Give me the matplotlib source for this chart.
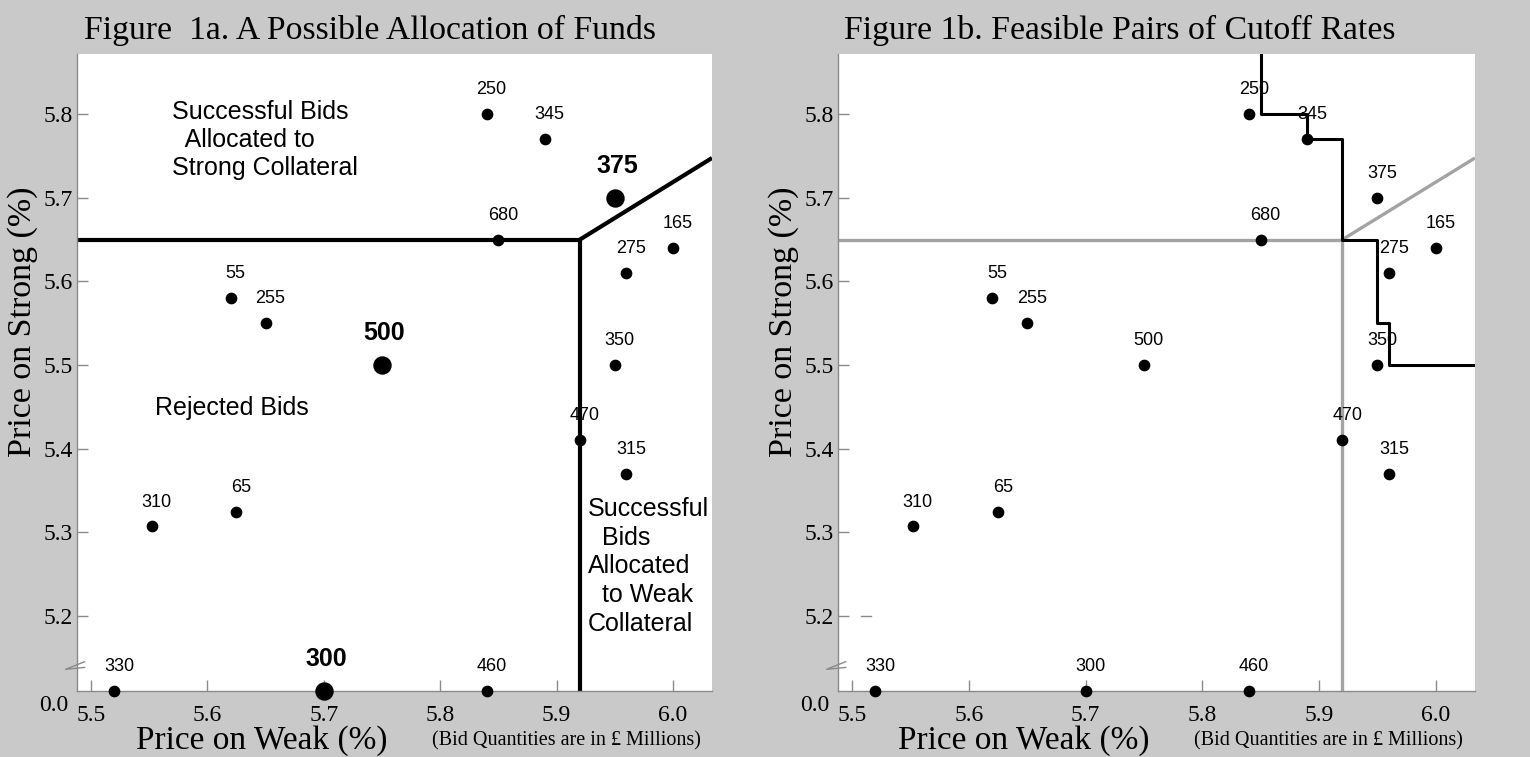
import numpy as np
import matplotlib
matplotlib.use("Agg")
import matplotlib.pyplot as plt
import matplotlib.transforms as mtransforms

# bids: quantity (GBP millions), price on weak (%), price on strong (%); 0.0 = below the axis break
quantities = [250, 345, 375, 680, 165, 275, 55, 255, 500, 350, 470, 315, 310, 65, 330, 300, 460]
weak = [5.84, 5.89, 5.95, 5.85, 6.00, 5.96, 5.62, 5.65, 5.75, 5.95, 5.92, 5.96, 5.552, 5.625, 5.52, 5.70, 5.84]
strong = [5.80, 5.77, 5.70, 5.65, 5.64, 5.61, 5.58, 5.55, 5.50, 5.50, 5.41, 5.37, 5.307, 5.324, 0.0, 0.0, 0.0]
highlighted = [375, 500, 300]  # the allocation shown in figure 1a

# cutoff rates
cut_weak = 5.92
cut_strong = 5.65
diag_slope = 0.86

# feasible cutoff pairs (fig 1b) step boundary
step_weak = [5.85, 5.89, 5.92, 5.95, 5.96]
step_strong = [5.80, 5.77, 5.65, 5.55, 5.50]

yticks = [5.2, 5.3, 5.4, 5.5, 5.6, 5.7, 5.8]
xticks = [5.5, 5.6, 5.7, 5.8, 5.9, 6.0]

XLIM = (5.488, 6.0335)
YLIM = (5.11, 5.872)

BG = "#c9c9c9"
AXC = "#8a8a8a"
SERIF = "Liberation Serif"
SANS = "Liberation Sans"

weak = np.array(weak)
strong_plot = np.where(np.array(strong) == 0.0, YLIM[0], strong)

fig = plt.figure(figsize=(15.3, 7.57), dpi=100, facecolor=BG)
ax1 = fig.add_axes([77 / 1530, 66 / 757, 635 / 1530, 637 / 757])
ax2 = fig.add_axes([838 / 1530, 66 / 757, 637 / 1530, 637 / 757])


def setup_axes(ax, title, title_x):
    ax.set_facecolor("white")
    ax.set_xlim(*XLIM)
    ax.set_ylim(*YLIM)
    for side in ["top", "right"]:
        ax.spines[side].set_visible(False)
    for side in ["left", "bottom"]:
        ax.spines[side].set_color(AXC)
        ax.spines[side].set_linewidth(1.0)
    ax.set_xticks(xticks)
    ax.set_xticklabels([f"{v:.1f}" for v in xticks])
    ax.set_yticks([YLIM[0]] + yticks)
    ax.set_yticklabels(["0.0"] + [f"{v:.1f}" for v in yticks])
    ax.tick_params(direction="in", length=8, width=1.0, color=AXC, labelsize=17)
    ax.tick_params(axis="x", pad=10)
    ax.tick_params(axis="y", pad=3)
    for lab in ax.get_xticklabels() + ax.get_yticklabels():
        lab.set_family(SERIF)
    # bottom "0.0" label sits below the break, a bit lower and left
    ax.yaxis.get_major_ticks()[0].tick1line.set_visible(False)
    lab0 = ax.get_yticklabels()[0]
    lab0.set_transform(lab0.get_transform() + mtransforms.ScaledTranslation(-4 / 100, -12 / 100, fig.dpi_scale_trans))
    # axis break mark
    ax.plot([0.012, -0.018, 0.012], [0.046, 0.034, 0.037], transform=ax.transAxes,
            color=AXC, lw=1.0, clip_on=False)

    ax.set_xlabel("Price on Weak (%)", family=SERIF, fontsize=24, va="center")
    ax.xaxis.set_label_coords(0.291, -0.078)
    ax.set_ylabel("Price on Strong (%)", family=SERIF, fontsize=24.5, va="center")
    ax.yaxis.set_label_coords(-0.086, 0.58)
    ax.text(0.77, -0.0785, "(Bid Quantities are in \u00a3 Millions)", transform=ax.transAxes,
            ha="center", va="center", family=SERIF, fontsize=14.5)
    ax.text(title_x, 1.037, title, transform=ax.transAxes, ha="center", va="center",
            family=SERIF, fontsize=24.3)


setup_axes(ax1, "Figure  1a. A Possible Allocation of Funds", 0.461)
setup_axes(ax2, "Figure 1b. Feasible Pairs of Cutoff Rates", 0.443)

diag_x = [cut_weak, XLIM[1]]
diag_y = [cut_strong, cut_strong + diag_slope * (XLIM[1] - cut_weak)]

# figure 1a: one allocation
ax1.plot([XLIM[0], cut_weak], [cut_strong, cut_strong], color="black", lw=3.0, solid_capstyle="butt")
ax1.plot([cut_weak, cut_weak], [cut_strong, YLIM[0]], color="black", lw=3.0, solid_capstyle="butt")
ax1.plot(diag_x, diag_y, color="black", lw=3.0, solid_capstyle="butt")

for q, x, y in zip(quantities, weak, strong_plot):
    big = q in highlighted
    ax1.scatter([x], [y], s=150 if big else 55, color="black", zorder=5, clip_on=False)
    ax1.annotate(str(q), (x, y), xytext=(1.5, 23) if big else (3.5, 17.5), textcoords="offset points",
                 ha="center", va="center", family=SANS, fontsize=18 if big else 13,
                 fontweight="bold" if big else "normal", annotation_clip=False)

ax1.text(5.570, 5.769, "Successful Bids\n  Allocated to\nStrong Collateral", ha="left", va="center",
         family=SANS, fontsize=18, linespacing=1.2)
ax1.text(5.555, 5.449, "Rejected Bids", ha="left", va="center", family=SANS, fontsize=18)
ax1.text(5.927, 5.259, "Successful\n  Bids\nAllocated\n  to Weak\nCollateral", ha="left", va="center",
         family=SANS, fontsize=18, linespacing=1.26)

# figure 1b: feasible cutoff pairs
GRAY = "#a3a3a3"
ax2.plot([XLIM[0], cut_weak], [cut_strong, cut_strong], color=GRAY, lw=2.4, solid_capstyle="butt")
ax2.plot([cut_weak, cut_weak], [cut_strong, YLIM[0]], color=GRAY, lw=2.4, solid_capstyle="butt")
ax2.plot(diag_x, diag_y, color=GRAY, lw=2.4, solid_capstyle="butt")

sx = step_weak + [XLIM[1]]
sy = [YLIM[1]] + step_strong
ax2.plot(sx, sy, drawstyle="steps-pre", color="black", lw=2.2, zorder=4)

# stray dash beside the 5.2 tick in the original scan
ax2.plot([0.036, 0.052], [5.2, 5.2], transform=ax2.get_yaxis_transform(), color=AXC, lw=1.0)

for q, x, y in zip(quantities, weak, strong_plot):
    ax2.scatter([x], [y], s=55, color="black", zorder=5, clip_on=False)
    ax2.annotate(str(q), (x, y), xytext=(3.5, 17.5), textcoords="offset points",
                 ha="center", va="center", family=SANS, fontsize=13, annotation_clip=False)

fig.savefig("out.png", dpi=100, facecolor=BG)
